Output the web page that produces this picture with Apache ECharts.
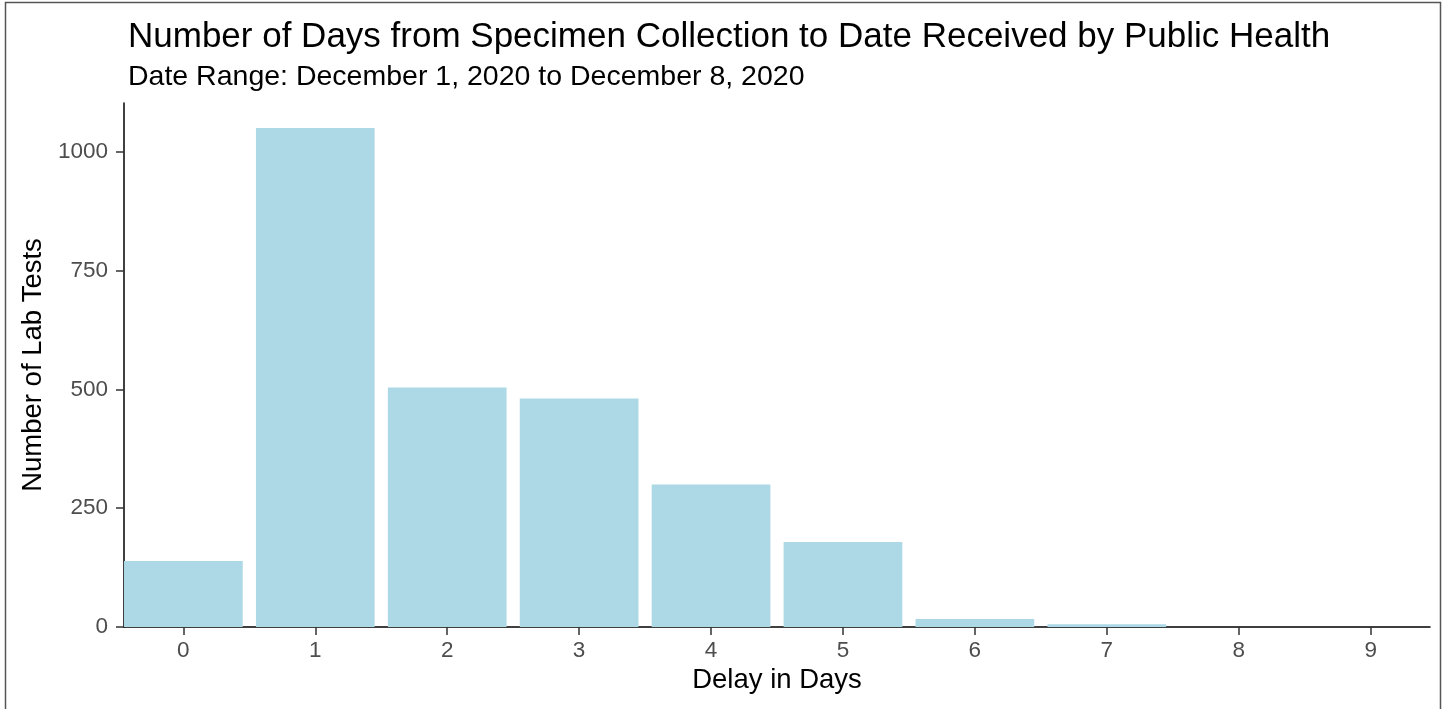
<!DOCTYPE html>
<html>
<head>
<meta charset="utf-8">
<script src="https://cdn.jsdelivr.net/npm/echarts@6/dist/echarts.min.js"></script>
<style>
html,body{margin:0;padding:0;background:#fff;}
#chart{width:1447px;height:709px;}
</style>
</head>
<body>
<div id="chart"></div>
<script>
const delayDays = [0, 1, 2, 3, 4, 5, 6, 7, 8, 9];
const labTests = [139, 1050, 504, 481, 300, 179, 17, 6, 0, 0];
const yTicks = [0, 250, 500, 750, 1000];
const titleText = 'Number of Days from Specimen Collection to Date Received by Public Health';
const subtitleText = 'Date Range: December 1, 2020 to December 8, 2020';
const xTitle = 'Delay in Days';
const yTitle = 'Number of Lab Tests';

const font = '"Liberation Sans", Arial, sans-serif';
const chart = echarts.init(document.getElementById('chart'), null, {renderer: 'canvas'});
const option = {
  backgroundColor: '#ffffff',
  animation: false,
  graphic: [{
    type: 'rect',
    shape: {x: 5.5, y: 2.5, width: 1435, height: 730},
    style: {fill: 'none', stroke: '#555555', lineWidth: 1.5},
    silent: true
  }],
  title: [
    {text: titleText, left: 123, top: 15,
     textStyle: {fontFamily: font, fontSize: 35, fontWeight: 'normal', color: '#000000'}},
    {text: subtitleText, left: 123, top: 58,
     textStyle: {fontFamily: font, fontSize: 28.5, fontWeight: 'normal', color: '#000000'}}
  ],
  grid: {left: 124, right: 17, top: 103, bottom: 82, containLabel: false},
  xAxis: {
    type: 'value',
    min: -0.45,
    max: 9.45,
    name: xTitle,
    nameLocation: 'middle',
    nameGap: 39,
    nameTextStyle: {fontFamily: font, fontSize: 27.5, color: '#000000'},
    splitLine: {show: false},
    axisLine: {show: true, onZero: false, lineStyle: {color: '#000000', width: 1.5}},
    axisTick: {show: true, length: 8, customValues: delayDays, lineStyle: {color: '#333333', width: 1.5}},
    axisLabel: {customValues: delayDays, margin: 12, fontFamily: font, fontSize: 22.5, color: '#4D4D4D'}
  },
  yAxis: {
    type: 'value',
    min: 0,
    max: 1102.5,
    name: yTitle,
    nameLocation: 'middle',
    nameGap: 74,
    nameTextStyle: {fontFamily: font, fontSize: 27.5, color: '#000000'},
    splitLine: {show: false},
    axisLine: {show: true, onZero: false, lineStyle: {color: '#000000', width: 1.5}},
    axisTick: {show: true, length: 8, customValues: yTicks, lineStyle: {color: '#333333', width: 1.5}},
    axisLabel: {customValues: yTicks, margin: 16, fontFamily: font, fontSize: 22.5, color: '#4D4D4D',
                formatter: v => String(v)}
  },
  series: [{
    type: 'bar',
    data: delayDays.map((d, i) => [d, labTests[i]]),
    barWidth: 118.7,
    itemStyle: {color: '#ADD8E6'},
    silent: true
  }]
};
chart.setOption(option);
</script>
</body>
</html>
